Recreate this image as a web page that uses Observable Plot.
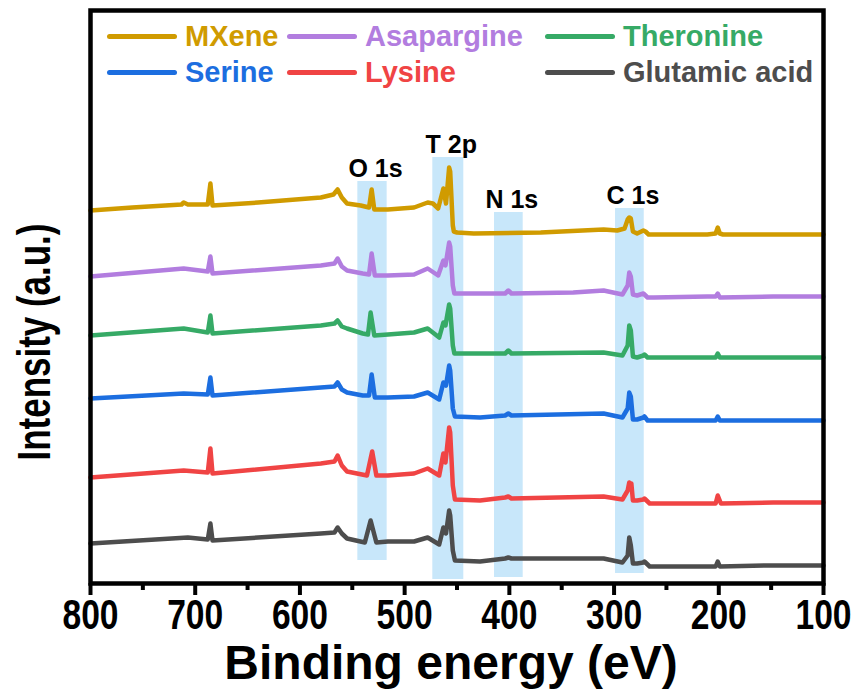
<!DOCTYPE html>
<html>
<head>
<meta charset="utf-8">
<script src="https://cdn.jsdelivr.net/npm/d3@7"></script>
<script src="https://cdn.jsdelivr.net/npm/@observablehq/plot@0.6"></script>
<style>
  body { margin: 0; background: #fff; }
  #chart { position: relative; width: 855px; height: 698px; font-family: "Liberation Sans", Arial, sans-serif; }
  #legend { position: absolute; left: 107px; top: 18px; display: grid;
            grid-template-columns: 180px 258px auto; grid-auto-rows: 36px;
            font-weight: bold; font-size: 29px; }
  .item { display: flex; align-items: center; white-space: nowrap; }
  .sw { width: 70px; height: 5px; border-radius: 3px; margin-right: 8px; flex: none; }
</style>
</head>
<body>
<div id="chart"><div id="legend"></div></div>
<script>
// XPS survey spectra, offset vertically: [binding energy (eV), intensity (a.u.)]
const mxene = [[800,373],[760,376],[713,379],[711,381],[707,379],[688,379],[685.5,400],[683.5,378],[640,381],[580,386],[568,389],[564,394],[560,386],[555,380],[542,378],[534,376],[531.5,394],[529,374],[516,374],[491,376],[478,381],[473,380],[468,375],[463,395],[460.5,380],[457.5,416],[456.5,412],[454,358],[453,352],[450,351],[434,350],[370,351],[310,354],[297,353],[290,355],[287,364],[285.5,366],[284,365],[282,352],[278,350],[272,353],[270,352],[267,349],[262,349],[211,349],[203,350],[201,356],[199,350],[196,349],[148,349],[100,349]];
const asapargine = [[800,307],[711,315],[688,312],[685.5,327],[683.5,310],[580,318],[567,320],[564,325],[560,317],[555,313],[540,310],[534,309],[531.5,330],[528.5,308],[516,308],[491,309],[478,315],[468,308],[463,323],[461,318],[457.5,341],[456.5,337],[454,298],[452.5,290],[430,290],[404,290],[401,293],[398,290],[339,291],[310,293],[292,289],[287,298],[285.5,311],[284,307],[282,289],[278,288],[272,290],[268,286],[262,286],[211,287],[203,287],[201,290],[199,286],[148,287],[100,287]];
const theronine = [[800,248],[711,255],[688,251],[685.5,268],[683.5,250],[580,258],[567,260],[564,263],[560,257],[555,255],[540,250],[535,249],[532.5,271],[529,248],[516,249],[491,251],[478,255],[467,246],[463,261],[461,258],[457.5,279],[456.5,275],[454,238],[452.5,230],[430,230],[404,230],[401,233],[398,230],[310,231],[292,228],[287,238],[285.5,258],[284,253],[282,227],[278,226],[272,228],[271,229],[268,226],[211,226],[203,226],[201,230],[199,226],[148,226],[100,226]];
const serine = [[800,185],[711,190],[688,189],[685.5,206],[683.5,188],[580,196],[567,197],[564,201],[560,194],[555,191],[540,188],[534,188],[531.5,209],[528.5,186],[516,186],[491,187],[478,191],[467,184],[463,201],[460.5,198],[457.5,218],[456.5,213],[454,175],[452,167],[428,166],[404,168],[401,170],[398,168],[310,170],[292,166],[287,175],[285.5,191],[284,187],[282,164],[278,164],[272,166],[271,167],[268,163],[211,163],[203,163],[201,167],[199,163],[148,163],[100,163]];
const lysine = [[800,106],[711,113],[688,111],[685.5,135],[683.5,110],[580,120],[567,122],[564,128],[560,118],[555,112],[536,108],[531,132],[527,108],[516,108],[491,110],[478,115],[467,108],[463,130],[461,121],[457.5,156],[456.5,151],[454,98],[452,84],[428,83],[404,86],[401,87],[398,85],[310,87],[292,84],[287,93],[285.5,101],[284.5,98],[283.5,100],[282,83],[278,83],[272,84],[271,85],[266,80],[211,80],[203,80],[201,88],[198,80],[148,81],[100,81]];
const glutamicAcid = [[800,40],[707,46],[688,44],[685.5,60],[683.5,43],[580,50],[567,51],[564,56],[560,50],[555,45],[538,41],[532.5,63],[527,41],[516,42],[491,42],[478,46],[467,39],[463,56],[460.5,50],[457.5,73],[456.5,68],[454,33],[452,23],[428,22],[404,25],[401,26],[398,25],[310,25],[292,21],[287,28],[285.5,46],[284,38],[282,20],[278,20],[272,21],[271,22],[266,17],[211,17],[203,17],[201,22],[199,17],[154,18],[100,18]];

const seriesNames = ["MXene", "Asapargine", "Theronine", "Serine", "Lysine", "Glutamic acid"];
const seriesColors = ["#d09b00", "#b27ddf", "#36aa66", "#1c6ee0", "#f04444", "#4d4d4d"];
const seriesData = [mxene, asapargine, theronine, serine, lysine, glutamicAcid];

// Highlighted core-level regions
const bandLabels = ["O 1s", "T 2p", "N 1s", "C 1s"];
const bandHigh = [544.7, 473.1, 414.2, 298.6];
const bandLow = [516.7, 443.5, 386.8, 271.2];
const bandTop = [402, 426, 371, 375];
const bandBottom = [23, 4, 6, 10];

const majorTicks = [800, 700, 600, 500, 400, 300, 200, 100];
const minorTicks = [750, 650, 550, 450, 350, 250, 150];

const rows = seriesData.flatMap((s, k) => s.map(([be, i]) => ({name: seriesNames[k], be, i})));
const bands = bandLabels.map((label, k) => ({label, hi: bandHigh[k], lo: bandLow[k], top: bandTop[k], bottom: bandBottom[k]}));

const plot = Plot.plot({
  width: 855,
  height: 698,
  marginLeft: 90,
  marginRight: 32,
  marginTop: 10,
  marginBottom: 115,
  style: {fontFamily: "Liberation Sans, Arial, sans-serif", background: "white"},
  x: {domain: [800, 100], label: null},
  y: {domain: [0, 573], axis: null},
  color: {domain: seriesNames, range: seriesColors},
  marks: [
    Plot.rect(bands, {x1: "hi", x2: "lo", y1: "bottom", y2: "top", fill: "#c8e7fa"}),
    Plot.text(bands, {x: d => (d.hi + d.lo) / 2, y: "top", text: "label", lineAnchor: "bottom", dx: 3, dy: -5,
                      fontSize: 25, fontWeight: "bold", fill: "black"}),
    Plot.line(rows, {x: "be", y: "i", z: "name", stroke: "name", strokeWidth: 4.5,
                     strokeLinejoin: "round", strokeLinecap: "round"}),
    Plot.axisX(minorTicks, {tickSize: 7, strokeWidth: 4, tickFormat: () => "", label: null}),
    Plot.axisX(majorTicks, {tickSize: 12, tickPadding: 4, strokeWidth: 4, fontSize: 42, fontWeight: "bold",
                            fill: "black", tickFormat: d => String(d), label: null}),
    Plot.frame({stroke: "black", strokeWidth: 4.5}),
    Plot.text(["Binding energy (eV)"], {text: d => d, frameAnchor: "bottom", lineAnchor: "middle", dx: -6, dy: 80,
                                         fontSize: 48, fontWeight: "bold", fill: "black"}),
    Plot.text(["Intensity (a.u.)"], {text: d => d, frameAnchor: "left", rotate: -90, textAnchor: "middle",
                                      lineAnchor: "middle", dx: -55, dy: 45, fontSize: 46, fontWeight: "bold",
                                      fill: "black"})
  ]
});

// Narrow the tick labels and the vertical title along their reading direction
function condense(nodes, k) {
  nodes.forEach(t => {
    const tr = t.getAttribute("transform") || "";
    const x = parseFloat(t.getAttribute("x"));
    let shift = "";
    if (Number.isFinite(x) && x !== 0 && !/em$/.test(t.getAttribute("x"))) {
      shift = ` translate(${x},0)`;
      t.removeAttribute("x");
    }
    t.setAttribute("transform", `${tr}${shift} scale(${k},1)`);
  });
}
const texts = Array.from(plot.querySelectorAll("text"));
condense(texts.filter(t => majorTicks.map(String).includes(t.textContent)), 0.8);
condense(texts.filter(t => t.textContent === "Intensity (a.u.)"), 0.76);

const chart = document.getElementById("chart");
chart.insertBefore(plot, chart.firstChild);

// Legend drawn over the top of the frame, three entries per row
const legend = d3.select("#legend");
seriesNames.forEach((name, k) => {
  const item = legend.append("div").attr("class", "item").style("color", seriesColors[k]);
  item.append("div").attr("class", "sw").style("background", seriesColors[k]);
  item.append("span").text(name);
});
</script>
</body>
</html>
